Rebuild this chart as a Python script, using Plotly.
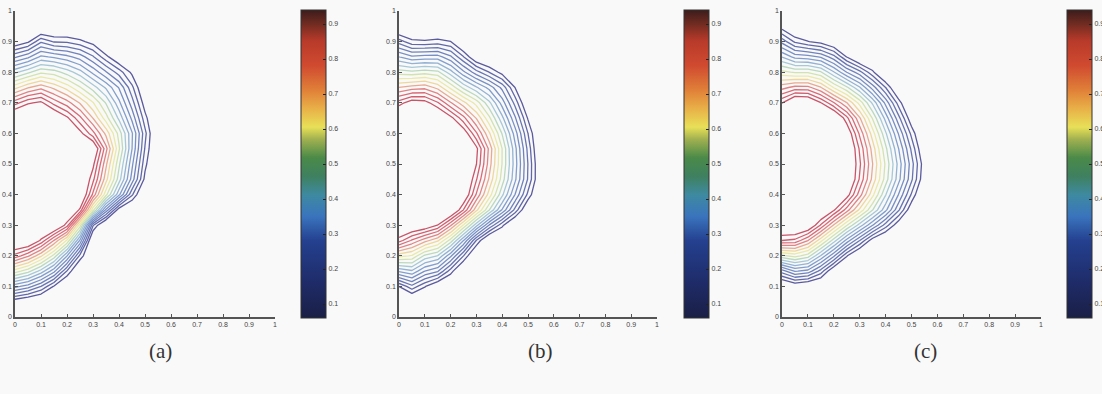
import numpy as np
import plotly.graph_objects as go

# ---------------- data ----------------
# outermost contour (level 0.1) and innermost contour (level 0.9), per panel
a_outer_x = [0.0, 0.07, 0.103, 0.147, 0.2, 0.295, 0.365, 0.43, 0.455, 0.494, 0.517, 0.506, 0.494, 0.455, 0.378, 0.30, 0.263, 0.23, 0.173, 0.096, 0.0]
a_outer_y = [0.886, 0.90, 0.927, 0.911, 0.911, 0.894, 0.845, 0.81, 0.79, 0.687, 0.60, 0.524, 0.442, 0.388, 0.344, 0.295, 0.208, 0.17, 0.115, 0.077, 0.058]
a_inner_x = [0.0, 0.051, 0.09, 0.135, 0.2, 0.25, 0.32, 0.295, 0.27, 0.218, 0.135, 0.07, 0.0]
a_inner_y = [0.682, 0.698, 0.709, 0.682, 0.655, 0.606, 0.557, 0.48, 0.382, 0.317, 0.273, 0.24, 0.213]
a_center_y = 0.47

b_outer_x = [0.0, 0.054, 0.1, 0.197, 0.249, 0.30, 0.365, 0.43, 0.482, 0.514, 0.527, 0.495, 0.45, 0.365, 0.30, 0.223, 0.165, 0.132, 0.054, 0.0]
b_outer_y = [0.922, 0.902, 0.902, 0.902, 0.867, 0.829, 0.807, 0.78, 0.688, 0.60, 0.432, 0.372, 0.323, 0.285, 0.242, 0.165, 0.116, 0.116, 0.08, 0.10]
b_inner_x = [0.0, 0.054, 0.093, 0.184, 0.249, 0.307, 0.288, 0.249, 0.184, 0.119, 0.067, 0.0]
b_inner_y = [0.693, 0.709, 0.709, 0.666, 0.617, 0.546, 0.459, 0.361, 0.318, 0.29, 0.29, 0.255]
b_center_y = 0.48

c_outer_x = [0.0, 0.062, 0.107, 0.197, 0.262, 0.339, 0.378, 0.429, 0.481, 0.519, 0.539, 0.532, 0.50, 0.468, 0.403, 0.339, 0.262, 0.184, 0.12, 0.068, 0.043, 0.0]
c_outer_y = [0.94, 0.902, 0.90, 0.884, 0.84, 0.812, 0.78, 0.742, 0.66, 0.579, 0.497, 0.432, 0.378, 0.323, 0.285, 0.252, 0.209, 0.155, 0.116, 0.116, 0.109, 0.13]
c_inner_x = [0.0, 0.043, 0.10, 0.171, 0.236, 0.262, 0.287, 0.281, 0.249, 0.184, 0.12, 0.055, 0.0]
c_inner_y = [0.699, 0.72, 0.72, 0.688, 0.655, 0.612, 0.519, 0.443, 0.383, 0.34, 0.296, 0.263, 0.258]
c_center_y = 0.50

level_outer = 0.1
level_inner = 0.9
level_step = 0.05
cbar_min, cbar_max = 0.06, 0.94
cbar_ticks = [0.1, 0.2, 0.3, 0.4, 0.5, 0.6, 0.7, 0.8, 0.9]
axis_ticks = [0, 0.1, 0.2, 0.3, 0.4, 0.5, 0.6, 0.7, 0.8, 0.9, 1]
axis_ticktext = ["0", "0.1", "0.2", "0.3", "0.4", "0.5", "0.6", "0.7", "0.8", "0.9", "1"]
captions = ["(a)", "(b)", "(c)"]

grid = np.linspace(0, 1, 21)


def field(ox, oy, ix, iy, cy):
    def polar(px, py):
        px = np.asarray(px, float)
        py = np.asarray(py, float) - cy
        th = np.arctan2(py, px)
        r = np.hypot(px, py)
        o = np.argsort(th)
        return th[o], r[o]
    tho, ro = polar(ox, oy)
    thi, ri = polar(ix, iy)
    X, Y = np.meshgrid(grid, grid)
    TH = np.arctan2(Y - cy, X)
    R = np.hypot(X, Y - cy)
    RO = np.interp(TH, tho, ro)
    RI = np.interp(TH, thi, ri)
    Z = level_outer + (level_inner - level_outer) * (RO - R) / (RO - RI)
    return np.clip(Z, 0.0, 1.0)


panels = [
    (a_outer_x, a_outer_y, a_inner_x, a_inner_y, a_center_y),
    (b_outer_x, b_outer_y, b_inner_x, b_inner_y, b_center_y),
    (c_outer_x, c_outer_y, c_inner_x, c_inner_y, c_center_y),
]

line_scale = [
    [0.0, "#5a5a9e"], [0.15, "#6a7ab8"], [0.33, "#84a2d2"], [0.45, "#abcdd8"],
    [0.52, "#c2deb4"], [0.62, "#ebeaa8"], [0.70, "#f0d49a"], [0.78, "#e5908a"],
    [0.88, "#da6876"], [1.0, "#c85468"],
]
bar_scale = [
    [0.0, "#1a1f45"], [0.12, "#1f2c6a"], [0.25, "#24408f"], [0.33, "#3a74bd"],
    [0.40, "#3e8aa0"], [0.46, "#3f8060"], [0.52, "#4a8a48"], [0.58, "#a0b050"],
    [0.62, "#e8e058"], [0.68, "#e8b048"], [0.74, "#e08038"], [0.82, "#d04a30"],
    [0.90, "#b83a2a"], [0.96, "#6a2a20"], [1.0, "#3c1c1c"],
]

W, H = 1102, 394
x_domains = [(15, 275), (399, 657), (782, 1041)]
cbar_left = [301, 684, 1067]
cap_x = [160, 540, 925]
y_dom = [(H - 317) / H, (H - 11) / H]

fig = go.Figure()
layout = dict(
    width=W, height=H,
    margin=dict(l=0, r=0, t=0, b=0, autoexpand=False),
    paper_bgcolor="#f9f9f9", plot_bgcolor="#f9f9f9",
    showlegend=False,
    annotations=[],
)

for i, (ox, oy, ix, iy, cy) in enumerate(panels):
    n = "" if i == 0 else str(i + 1)
    Z = field(ox, oy, ix, iy, cy)
    fig.add_trace(go.Contour(
        x=grid, y=grid, z=Z,
        xaxis="x" + n, yaxis="y" + n,
        contours=dict(start=level_outer, end=level_inner, size=level_step, coloring="lines"),
        colorscale=line_scale, zmin=cbar_min, zmax=cbar_max, zauto=False,
        line=dict(width=1.3, smoothing=0),
        showscale=False, hoverinfo="skip",
    ))
    fig.add_trace(go.Scatter(
        x=[5, 5], y=[5, 5], xaxis="x" + n, yaxis="y" + n, mode="markers",
        marker=dict(color=[cbar_min, cbar_max], colorscale=bar_scale, cmin=cbar_min, cmax=cbar_max,
                    size=1, showscale=True,
                    colorbar=dict(
                        x=cbar_left[i] / W, xanchor="left", y=1 - 164 / H, yanchor="middle",
                        thickness=25, thicknessmode="pixels", len=308, lenmode="pixels",
                        outlinewidth=1, outlinecolor="#333",
                        tickvals=cbar_ticks, ticks="inside", ticklen=3, tickcolor="#222",
                        tickfont=dict(size=7, color="#444", family="Liberation Sans"),
                        xpad=0, ypad=0,
                    )),
        hoverinfo="skip",
    ))
    x0, x1 = x_domains[i]
    axstyle = dict(
        range=[0, 1], tickvals=axis_ticks, ticktext=axis_ticktext,
        ticks="inside", ticklen=3, tickcolor="#555",
        showline=True, linecolor="#555", linewidth=1.5, mirror=False,
        showgrid=False, zeroline=False,
        tickfont=dict(size=7, color="#444", family="Liberation Sans"),
    )
    layout["xaxis" + n] = dict(axstyle, domain=[x0 / W, x1 / W], anchor="y" + n)
    layout["yaxis" + n] = dict(axstyle, domain=y_dom, anchor="x" + n)
    layout["annotations"].append(dict(
        x=cap_x[i] / W, y=1 - 351 / H, xref="paper", yref="paper",
        xanchor="center", yanchor="middle",
        text=captions[i], showarrow=False,
        font=dict(size=21, color="#333", family="Liberation Serif"),
    ))

fig.update_layout(**layout)
fig.write_html("out.html", config={"displayModeBar": False},
               post_script="document.body.style.margin='0';document.body.style.background='#f9f9f9';")
